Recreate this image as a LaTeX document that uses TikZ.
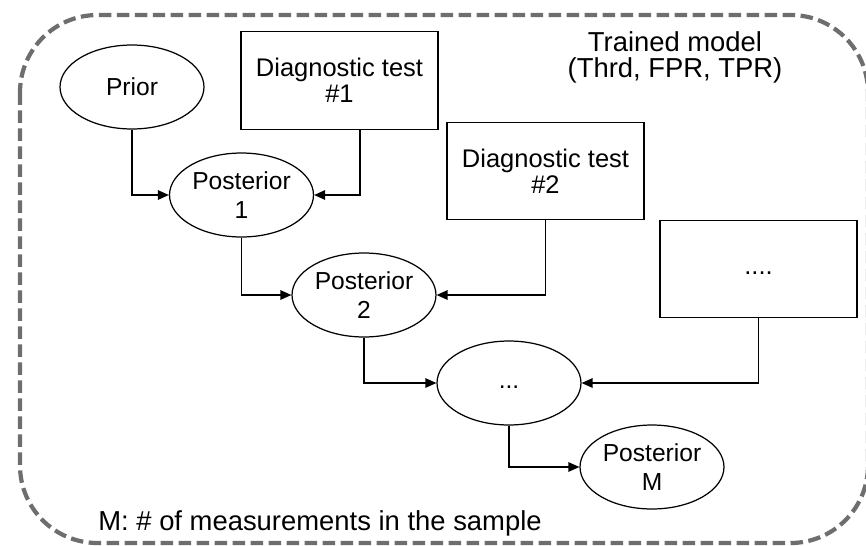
\documentclass[tikz,border=0pt]{standalone}
\usepackage{fontspec}
\setmainfont{Liberation Sans}
\usetikzlibrary{arrows.meta,shapes.geometric}
\definecolor{framegray}{HTML}{6E6E6E}

\begin{document}
\begin{tikzpicture}[x=0.02cm,y=-0.02cm,
    every node/.style={font=\fontsize{14}{16.5}\selectfont,inner sep=0pt,align=center},
    estate/.style={draw,ellipse,line width=0.7pt,minimum width=2.88cm,minimum height=1.68cm},
    testbox/.style={draw,rectangle,line width=0.7pt,minimum width=3.94cm,minimum height=1.95cm,
      font=\fontsize{14.5}{15}\selectfont},
    flow/.style={-{Triangle[length=0.22cm,width=0.19cm]},line width=0.7pt}]
  \useasboundingbox (0,0) rectangle (866,545);
  % model frame
  \draw[framegray,line width=2.4pt,dash pattern=on 0.25cm off 0.11cm,rounded corners=1.55cm]
    (20,15) rectangle (868,543);
  \node[estate] (prior) at (132,87) {Prior};
  \node[testbox] (testA) at (339.5,80.5) {Diagnostic test\\\#1};
  \node[estate] (postA) at (241.5,195) {Posterior\\1};
  \node[testbox] (testB) at (545.5,171) {Diagnostic test\\\#2};
  \node[estate] (postB) at (364,295) {Posterior\\2};
  \node[testbox] (testN) at (758.5,269) {\strut....};
  \node[estate] (postN) at (509,383) {\strut...};
  \node[estate] (postM) at (652,467) {Posterior\\M};
  \node[font=\fontsize{15.6}{14.8}\selectfont] (model) at (675,57) {Trained model\\(Thrd, FPR, TPR)};
  \node[font=\fontsize{15.6}{18}\selectfont,anchor=base west] (note) at (98,530)
    {M: \# of measurements in the sample};
  % updates
  \draw[flow] (prior.south) |- (postA.west);
  \draw[flow] ([xshift=0.41cm]testA.south) |- (postA.east);
  \draw[flow] (postA.south) |- (postB.west);
  \draw[flow] (testB.south) |- (postB.east);
  \draw[flow] (postB.south) |- (postN.west);
  \draw[flow] (testN.south) |- (postN.east);
  \draw[flow] (postN.south) |- (postM.west);
\end{tikzpicture}
\end{document}
